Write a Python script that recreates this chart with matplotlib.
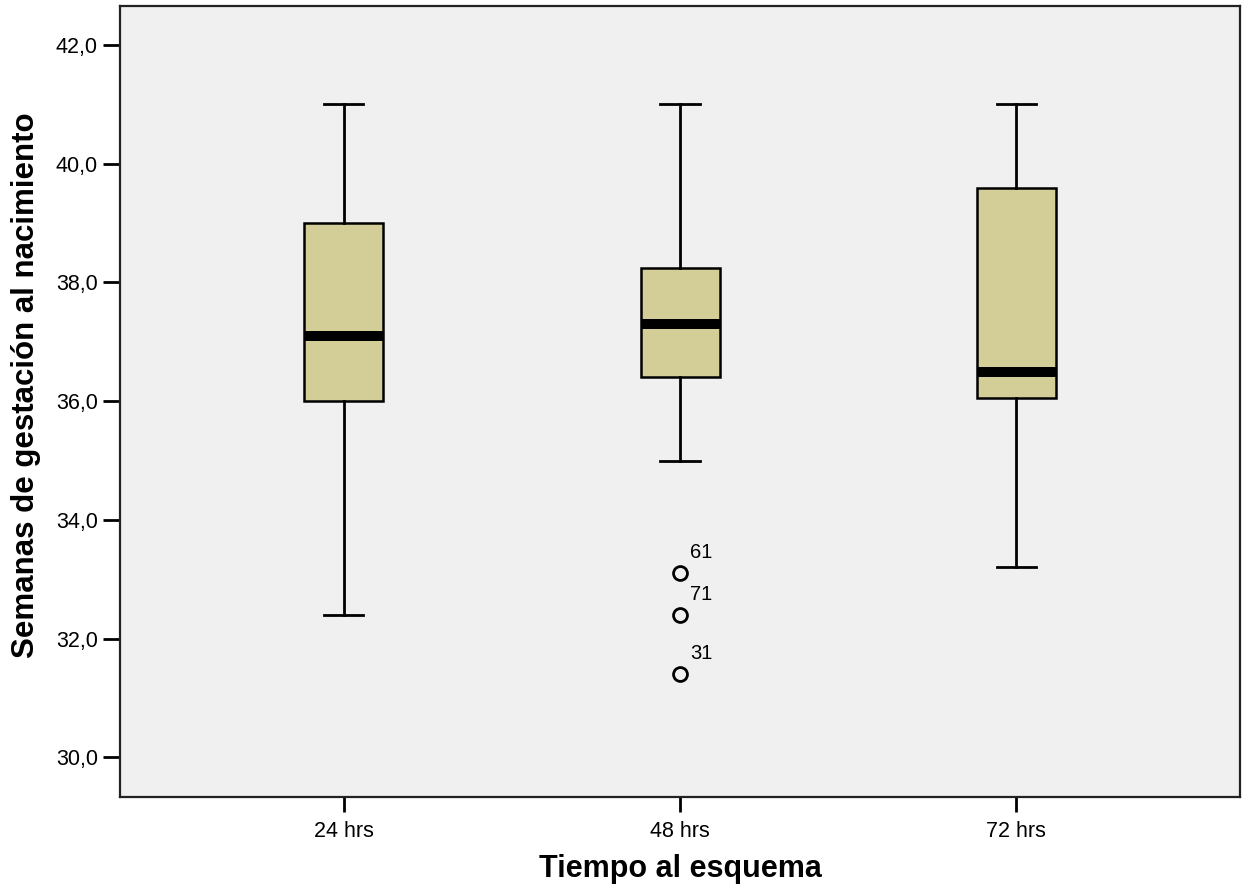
import matplotlib
matplotlib.use("Agg")
import matplotlib.pyplot as plt

# valores
grupos = ["24 hrs", "48 hrs", "72 hrs"]
q1 = [36.0, 36.4, 36.05]
mediana = [37.1, 37.3, 36.5]
q3 = [39.0, 38.25, 39.6]
bigote_inf = [32.4, 35.0, 33.2]
bigote_sup = [41.0, 41.0, 41.0]
atipicos = [[], [33.1, 32.4, 31.4], []]
atipicos_id = [[], ["61", "71", "31"], []]

yticks = [30.0, 32.0, 34.0, 36.0, 38.0, 40.0, 42.0]

plt.rcParams["font.family"] = ["Liberation Sans", "DejaVu Sans"]

stats = []
for i in range(len(grupos)):
    stats.append({
        "label": grupos[i],
        "q1": q1[i],
        "med": mediana[i],
        "q3": q3[i],
        "whislo": bigote_inf[i],
        "whishi": bigote_sup[i],
        "fliers": atipicos[i],
    })

fig = plt.figure(figsize=(12.48, 8.9), dpi=100)
ax = fig.add_axes([0.0962, 0.1045, 0.8974, 0.8888])
ax.set_facecolor("#f0f0f0")

pos = [1, 2, 3]
ax.bxp(stats, positions=pos, widths=0.235, capwidths=0.117, patch_artist=True,
       boxprops=dict(facecolor="#d3ce97", edgecolor="black", linewidth=1.8),
       medianprops=dict(color="black", linewidth=7.2, solid_capstyle="butt"),
       whiskerprops=dict(color="black", linewidth=2.0),
       capprops=dict(color="black", linewidth=2.0),
       flierprops=dict(marker="o", markerfacecolor="none", markeredgecolor="black",
                       markersize=10, markeredgewidth=2.0))

for i in range(len(grupos)):
    for v, t in zip(atipicos[i], atipicos_id[i]):
        ax.annotate(t, (pos[i], v), xytext=(7, 8), textcoords="offset points",
                    ha="left", va="bottom", fontsize=14.5)

ax.set_xlim(0.335, 3.665)
ax.set_ylim(29.33, 42.66)
ax.set_yticks(yticks)
ax.set_yticklabels([f"{v:.1f}".replace(".", ",") for v in yticks])
ax.set_xticks(pos)
ax.set_xticklabels(grupos)

ax.tick_params(axis="y", length=12, width=2.0, pad=4, labelsize=15.5)
ax.tick_params(axis="x", length=11, width=2.0, pad=6, labelsize=15.5)
for s in ax.spines.values():
    s.set_linewidth(1.6)
    s.set_color("#222222")

ax.set_xlabel("Tiempo al esquema", fontsize=22, fontweight="bold", labelpad=9)
ax.set_ylabel("Semanas de gestación al nacimiento", fontsize=22.5, fontweight="bold")
ax.yaxis.set_label_coords(-0.071, 0.521)

fig.savefig("out.png", dpi=100)
